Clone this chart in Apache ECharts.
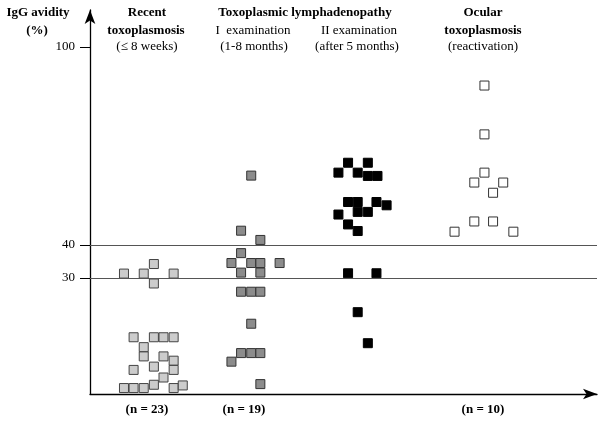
<!DOCTYPE html>
<html>
<head>
<meta charset="utf-8">
<script src="https://cdn.jsdelivr.net/npm/echarts@6/dist/echarts.min.js"></script>
<style>html,body{margin:0;padding:0;background:#fff}#c{width:601px;height:428px}</style>
</head>
<body>
<div id="c"></div>
<script>
// ---- data (x = jitter position within plot, y = IgG avidity %) ----
const yTicks = [30, 40, 100];
const refLines = [30, 40];
const groupNames = ['Recent toxoplasmosis', 'Lymphadenopathy I examination', 'Lymphadenopathy II examination', 'Ocular toxoplasmosis'];
const groupCounts = ['(n = 23)', '(n = 19)', '(n = 10)'];

const recent = [
  [6.7,31.3],[10.6,31.3],[12.6,34.2],[12.6,28.3],[16.5,31.3],
  [8.6,12.0],[12.6,12.0],[14.5,12.0],[16.5,12.0],
  [10.6,9.0],[10.6,6.2],[14.5,6.2],[16.5,4.9],[12.6,3.1],[8.6,2.1],[16.5,2.1],
  [14.5,-0.2],[12.6,-2.4],[6.7,-3.4],[8.6,-3.4],[10.6,-3.4],[16.5,-3.4],[18.3,-2.6]
];
const lymphI = [
  [31.8,61.0],[29.8,44.3],[33.6,41.5],[29.8,37.5],
  [27.9,34.5],[31.8,34.5],[33.6,34.5],[37.4,34.5],
  [29.8,31.6],[33.6,31.6],
  [29.8,25.8],[31.8,25.8],[33.6,25.8],
  [31.8,16.1],
  [29.8,7.2],[31.8,7.2],[33.6,7.2],
  [27.9,4.6],[33.6,-2.2]
];
const lymphII = [
  [50.9,64.9],[54.8,64.9],[49.0,61.9],[52.8,61.9],[54.8,60.9],[56.7,60.9],
  [50.9,53.0],[52.8,53.0],[56.5,53.0],[58.5,52.0],[52.8,50.0],[54.8,50.0],
  [49.0,49.2],[50.9,46.2],[52.8,44.2],
  [50.9,31.4],[56.5,31.4],[52.8,19.6],[54.8,10.2]
];
const ocular = [
  [77.8,88.3],[77.8,73.5],[77.8,61.9],[75.8,58.9],[81.5,58.9],[79.5,55.8],
  [75.8,47.1],[79.5,47.1],[71.9,44.0],[83.5,44.0]
];

const serif = '"Liberation Serif", "DejaVu Serif", serif';
function txt(text, x, y, bold) {
  return { type: 'text', x: x, y: y, style: { text: text, textAlign: 'center', textVerticalAlign: 'middle',
    font: (bold ? 'bold ' : '') + '13px ' + serif, fill: '#000' } };
}
function sq(name, data, fill, border) {
  return { name: name, type: 'scatter', data: data, symbol: 'rect', symbolSize: 9,
    itemStyle: { color: fill, borderColor: border, borderWidth: 1, opacity: 1 }, silent: true, z: 3 };
}

const chart = echarts.init(document.getElementById('c'), null, { renderer: 'canvas' });
const series = [
  sq(groupNames[0], recent, '#cccccc', '#444'),
  sq(groupNames[1], lymphI, '#8c8c8c', '#333'),
  sq(groupNames[2], lymphII, '#000000', '#000'),
  sq(groupNames[3], ocular, '#ffffff', '#333')
];
series[0].markLine = {
  silent: true, symbol: 'none', label: { show: false },
  lineStyle: { color: '#555', width: 1, type: 'solid' },
  data: refLines.map(v => ({ yAxis: v }))
};

chart.setOption({
  animation: false,
  backgroundColor: '#fff',
  grid: { left: 90, right: 4, top: 10, bottom: 34 },
  xAxis: {
    type: 'value', min: 0, max: 100,
    axisLine: { show: true, onZero: false, symbol: ['none', 'arrow'], symbolSize: [8, 14], lineStyle: { color: '#000', width: 1.3 } },
    axisTick: { show: false }, axisLabel: { show: false }, splitLine: { show: false }
  },
  yAxis: {
    type: 'value', min: -5.2, max: 111.2,
    axisLine: { show: true, onZero: false, symbol: ['none', 'arrow'], symbolSize: [8, 14], lineStyle: { color: '#000', width: 1.3 } },
    axisTick: { show: true, customValues: yTicks, length: 10, lineStyle: { color: '#000', width: 1 } },
    axisLabel: { show: true, customValues: yTicks, margin: 15, fontFamily: serif, fontSize: 13, color: '#000' },
    splitLine: { show: false }
  },
  graphic: [
    txt('IgG avidity', 38, 13, true), txt('(%)', 37, 31, true),
    txt('Recent', 147, 13, true), txt('toxoplasmosis', 146, 31, true), txt('(\u2264 8 weeks)', 147, 47, false),
    txt('Toxoplasmic lymphadenopathy', 305, 13, true),
    txt('I  examination', 253, 31, false), txt('(1-8 months)', 254, 47, false),
    txt('II examination', 359, 31, false), txt('(after 5 months)', 357, 47, false),
    txt('Ocular', 483, 13, true), txt('toxoplasmosis', 483, 31, true), txt('(reactivation)', 483, 47, false),
    txt(groupCounts[0], 147, 410, true), txt(groupCounts[1], 244, 410, true), txt(groupCounts[2], 483, 410, true)
  ],
  series: series
});
</script>
</body>
</html>
